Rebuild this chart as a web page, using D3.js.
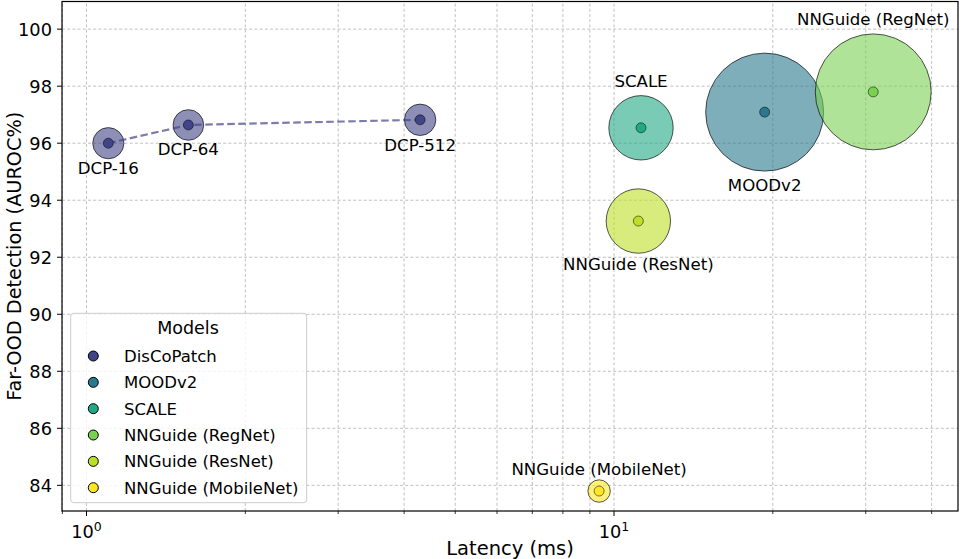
<!DOCTYPE html>
<html>
<head>
<meta charset="utf-8">
<script src="https://cdn.jsdelivr.net/npm/d3@7"></script>
<style>
  html, body { margin: 0; padding: 0; background: #fff; }
  svg { display: block; font-family: "DejaVu Sans", sans-serif; }
</style>
</head>
<body>
<svg id="chart" width="963" height="559"></svg>
<script>
// ---------- data ----------
const models   = ["DisCoPatch", "DisCoPatch", "DisCoPatch", "MOODv2", "SCALE", "NNGuide (RegNet)", "NNGuide (ResNet)", "NNGuide (MobileNet)"];
const labels   = ["DCP-16", "DCP-64", "DCP-512", "MOODv2", "SCALE", "NNGuide (RegNet)", "NNGuide (ResNet)", "NNGuide (MobileNet)"];
const latency  = [1.10, 1.56, 4.29, 19.3, 11.25, 31.0, 11.12, 9.37];   // ms
const auroc    = [96.0, 96.64, 96.82, 97.09, 96.54, 97.8, 93.27, 83.8]; // %
const params   = [6.0, 5.8, 6.1, 86, 25.6, 83, 25.6, 3.1];             // bubble size (M params)
const legendModels = ["DisCoPatch", "MOODv2", "SCALE", "NNGuide (RegNet)", "NNGuide (ResNet)", "NNGuide (MobileNet)"];
const yTicks   = [84, 86, 88, 90, 92, 94, 96, 98, 100];
const xMajor   = [1, 10];

// ---------- style ----------
const colors = {
  "DisCoPatch": "#414487",
  "MOODv2": "#2a788e",
  "SCALE": "#22a884",
  "NNGuide (RegNet)": "#7ad151",
  "NNGuide (ResNet)": "#bddf26",
  "NNGuide (MobileNet)": "#fde725"
};
// label placement: +1 below bubble, -1 above bubble, with extra pad (px) to text centre
const labelPlace = {
  "DCP-16": [1, 9.5], "DCP-64": [1, 9], "DCP-512": [1, 9.5],
  "MOODv2": [1, 14], "SCALE": [-1, 14.5], "NNGuide (RegNet)": [-1, 15],
  "NNGuide (ResNet)": [1, 11], "NNGuide (MobileNet)": [-1, 11]
};

const W = 963, H = 559;
const m = { left: 62, right: 5, top: 1.5, bottom: 48 };
const svg = d3.select("#chart");

const x = d3.scaleLog().domain([0.8986, 44.88]).range([m.left, W - m.right]);
const y = d3.scaleLinear().domain([83.1, 100.97]).range([H - m.bottom, m.top]);
const r = d3.scaleSqrt().domain([0, 86]).range([0, 59]);

const x0 = m.left, x1 = W - m.right, y0 = H - m.bottom, y1 = m.top;

// minor ticks for log axis
const xMinor = [];
[1, 10].forEach(dec => { for (let k = 2; k <= 9; k++) { const v = dec * k; if (v > x.domain()[0] && v < x.domain()[1]) xMinor.push(v); } });
[0.9].forEach(v => { if (v > x.domain()[0]) xMinor.push(v); });

// clip
svg.append("defs").append("clipPath").attr("id", "plotclip")
  .append("rect").attr("x", x0).attr("y", y1).attr("width", x1 - x0).attr("height", y0 - y1);

// grid
const grid = svg.append("g").attr("stroke", "#b0b0b0").attr("stroke-width", 0.8).attr("stroke-dasharray", "3,2.2");
grid.selectAll("line.gy").data(yTicks).join("line")
  .attr("x1", x0).attr("x2", x1).attr("y1", d => y(d)).attr("y2", d => y(d));
grid.selectAll("line.gx").data(xMajor.concat(xMinor)).join("line")
  .attr("y1", y0).attr("y2", y1).attr("x1", d => x(d)).attr("x2", d => x(d));

const plot = svg.append("g").attr("clip-path", "url(#plotclip)");
const pts = latency.map((v, i) => ({ lat: v, auc: auroc[i], p: params[i], model: models[i], label: labels[i] }));

// bubbles
plot.selectAll("circle.bub").data(pts).join("circle")
  .attr("cx", d => x(d.lat)).attr("cy", d => y(d.auc)).attr("r", d => r(d.p))
  .attr("fill", d => colors[d.model]).attr("fill-opacity", 0.6)
  .attr("stroke", "#000").attr("stroke-opacity", 0.65).attr("stroke-width", 1);

// DCP dashed line
const dcp = pts.filter(d => d.model === "DisCoPatch");
plot.append("path")
  .attr("d", d3.line().x(d => x(d.lat)).y(d => y(d.auc))(dcp))
  .attr("fill", "none").attr("stroke", colors["DisCoPatch"]).attr("stroke-opacity", 0.7)
  .attr("stroke-width", 2.2).attr("stroke-dasharray", "7.5,3.5");

// centre dots
plot.selectAll("circle.dot").data(pts).join("circle")
  .attr("cx", d => x(d.lat)).attr("cy", d => y(d.auc)).attr("r", 5)
  .attr("fill", d => colors[d.model])
  .attr("stroke", "#000").attr("stroke-opacity", 0.5).attr("stroke-width", 1);

// data labels
svg.selectAll("text.lab").data(pts).join("text")
  .attr("x", d => x(d.lat))
  .attr("y", d => { const [dir, pad] = labelPlace[d.label]; return y(d.auc) + dir * (r(d.p) + pad); })
  .attr("text-anchor", "middle").attr("dy", "0.36em")
  .attr("font-size", 16.6).attr("fill", "#000").text(d => d.label);

// spines
svg.append("rect").attr("x", x0).attr("y", y1).attr("width", x1 - x0).attr("height", y0 - y1)
  .attr("fill", "none").attr("stroke", "#000").attr("stroke-width", 1.2);

// y ticks
const yt = svg.append("g");
yt.selectAll("line").data(yTicks).join("line")
  .attr("x1", x0 - 5).attr("x2", x0).attr("y1", d => y(d)).attr("y2", d => y(d))
  .attr("stroke", "#000").attr("stroke-width", 1);
yt.selectAll("text").data(yTicks).join("text")
  .attr("x", x0 - 10).attr("y", d => y(d)).attr("dy", "0.36em")
  .attr("text-anchor", "end").attr("font-size", 17.8).text(d => d);

// x ticks
const xt = svg.append("g");
xt.selectAll("line.maj").data(xMajor).join("line")
  .attr("x1", d => x(d)).attr("x2", d => x(d)).attr("y1", y0).attr("y2", y0 + 5)
  .attr("stroke", "#000").attr("stroke-width", 1);
xt.selectAll("line.min").data(xMinor).join("line")
  .attr("x1", d => x(d)).attr("x2", d => x(d)).attr("y1", y0).attr("y2", y0 + 3)
  .attr("stroke", "#000").attr("stroke-width", 0.8);
xMajor.forEach(v => {
  const t = xt.append("text").attr("x", x(v)).attr("y", y0 + 27).attr("text-anchor", "middle").attr("font-size", 17.8);
  t.append("tspan").text("10");
  t.append("tspan").attr("font-size", 12.5).attr("dy", "-0.55em").text(Math.round(Math.log10(v)));
});

// axis labels
svg.append("text").attr("x", (x0 + x1) / 2).attr("y", 555).attr("text-anchor", "middle")
  .attr("font-size", 19.5).text("Latency (ms)");
svg.append("text").attr("transform", `translate(21,${(y0 + y1) / 2}) rotate(-90)`)
  .attr("text-anchor", "middle").attr("font-size", 19.3).text("Far-OOD Detection (AUROC%)");

// legend
const lg = svg.append("g");
lg.append("rect").attr("x", 70.7).attr("y", 313.3).attr("width", 236).attr("height", 189.4).attr("rx", 3)
  .attr("fill", "#fff").attr("fill-opacity", 0.8).attr("stroke", "#cccccc").attr("stroke-width", 1);
lg.append("text").attr("x", 188).attr("y", 334).attr("text-anchor", "middle").attr("font-size", 17.5).text("Models");
const ly = d3.scalePoint().domain(legendModels).range([356, 487.7]);
lg.selectAll("circle").data(legendModels).join("circle")
  .attr("cx", 93.3).attr("cy", d => ly(d)).attr("r", 5)
  .attr("fill", d => colors[d]).attr("stroke", "#000").attr("stroke-width", 1);
lg.selectAll("text.it").data(legendModels).join("text")
  .attr("x", 124).attr("y", d => ly(d)).attr("dy", "0.36em").attr("font-size", 16.5).text(d => d);
</script>
</body>
</html>
